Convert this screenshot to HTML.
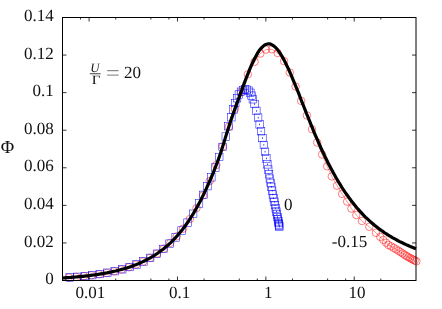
<!DOCTYPE html>
<html><head><meta charset="utf-8"><title>Phi plot</title>
<style>
html,body{margin:0;padding:0;background:#fff;}
body{width:442px;height:309px;overflow:hidden;font-family:"Liberation Serif",serif;}
svg{display:block;will-change:transform;}
text{font-family:"Liberation Serif",serif;font-size:17px;fill:#111;text-rendering:geometricPrecision;}
</style></head><body>
<svg width="442" height="309" viewBox="0 0 442 309">
<rect width="442" height="309" fill="#fff"/>
<path d="M68.8,277.5 L76.4,276.9 L84.0,276.2 L91.6,275.3 L99.2,274.2 L106.7,272.9 L114.2,271.3 L121.6,269.5 L128.9,267.2 L136.1,264.6 L143.2,261.5 L150.2,257.9 L157.0,253.6 L163.7,248.7 L170.3,242.9 L176.8,236.3 L183.1,228.7 L189.9,219.0 L196.5,208.1 L203.1,195.4 L209.7,181.1 L216.3,165.0 L222.7,146.5 L228.8,126.8 L234.9,108.9 L241.0,92.2 L247.8,74.3 L254.6,61.8 L260.3,53.6 L266.0,49.6 L271.9,49.3 L277.6,53.0 L284.1,61.1 L289.8,72.5 L295.6,86.5 L301.2,100.9 L306.9,115.4 L312.0,129.2 L317.2,142.5 L322.1,154.5 L327.2,166.3 L331.8,176.4 L337.0,185.7 L342.1,193.9 L347.1,201.6 L351.4,208.5 L356.3,215.0 L362.0,221.0 L369.3,226.8 L375.9,232.8 L380.3,236.9 L383.3,239.9 L386.1,242.7 L388.4,245.0 L391.1,246.4 L393.7,247.9 L396.1,249.3 L398.4,250.7 L400.6,252.1 L402.7,253.5 L404.7,254.9 L406.6,256.0 L408.4,257.1 L410.1,258.0 L411.7,258.9 L413.2,259.7 L414.7,260.5 L416.4,261.3" fill="none" stroke="#f00" stroke-width="0.4"/>
<g fill="none" stroke="#f00" stroke-width="0.5"><circle cx="68.8" cy="277.5" r="3.75"/><circle cx="76.4" cy="276.9" r="3.75"/><circle cx="84.0" cy="276.2" r="3.75"/><circle cx="91.6" cy="275.3" r="3.75"/><circle cx="99.2" cy="274.2" r="3.75"/><circle cx="106.7" cy="272.9" r="3.75"/><circle cx="114.2" cy="271.3" r="3.75"/><circle cx="121.6" cy="269.5" r="3.75"/><circle cx="128.9" cy="267.2" r="3.75"/><circle cx="136.1" cy="264.6" r="3.75"/><circle cx="143.2" cy="261.5" r="3.75"/><circle cx="150.2" cy="257.9" r="3.75"/><circle cx="157.0" cy="253.6" r="3.75"/><circle cx="163.7" cy="248.7" r="3.75"/><circle cx="170.3" cy="242.9" r="3.75"/><circle cx="176.8" cy="236.3" r="3.75"/><circle cx="183.1" cy="228.7" r="3.75"/><circle cx="189.9" cy="219.0" r="3.75"/><circle cx="196.5" cy="208.1" r="3.75"/><circle cx="203.1" cy="195.4" r="3.75"/><circle cx="209.7" cy="181.1" r="3.75"/><circle cx="216.3" cy="165.0" r="3.75"/><circle cx="222.7" cy="146.5" r="3.75"/><circle cx="228.8" cy="126.8" r="3.75"/><circle cx="234.9" cy="108.9" r="3.75"/><circle cx="241.0" cy="92.2" r="3.75"/><circle cx="247.8" cy="74.3" r="3.75"/><circle cx="254.6" cy="61.8" r="3.75"/><circle cx="260.3" cy="53.6" r="3.75"/><circle cx="266.0" cy="49.6" r="3.75"/><circle cx="271.9" cy="49.3" r="3.75"/><circle cx="277.6" cy="53.0" r="3.75"/><circle cx="284.1" cy="61.1" r="3.75"/><circle cx="289.8" cy="72.5" r="3.75"/><circle cx="295.6" cy="86.5" r="3.75"/><circle cx="301.2" cy="100.9" r="3.75"/><circle cx="306.9" cy="115.4" r="3.75"/><circle cx="312.0" cy="129.2" r="3.75"/><circle cx="317.2" cy="142.5" r="3.75"/><circle cx="322.1" cy="154.5" r="3.75"/><circle cx="327.2" cy="166.3" r="3.75"/><circle cx="331.8" cy="176.4" r="3.75"/><circle cx="337.0" cy="185.7" r="3.75"/><circle cx="342.1" cy="193.9" r="3.75"/><circle cx="347.1" cy="201.6" r="3.75"/><circle cx="351.4" cy="208.5" r="3.75"/><circle cx="356.3" cy="215.0" r="3.75"/><circle cx="362.0" cy="221.0" r="3.75"/><circle cx="369.3" cy="226.8" r="3.75"/><circle cx="375.9" cy="232.8" r="3.75"/><circle cx="380.3" cy="236.9" r="3.75"/><circle cx="383.3" cy="239.9" r="3.75"/><circle cx="386.1" cy="242.7" r="3.75"/><circle cx="388.4" cy="245.0" r="3.75"/><circle cx="391.1" cy="246.4" r="3.75"/><circle cx="393.7" cy="247.9" r="3.75"/><circle cx="396.1" cy="249.3" r="3.75"/><circle cx="398.4" cy="250.7" r="3.75"/><circle cx="400.6" cy="252.1" r="3.75"/><circle cx="402.7" cy="253.5" r="3.75"/><circle cx="404.7" cy="254.9" r="3.75"/><circle cx="406.6" cy="256.0" r="3.75"/><circle cx="408.4" cy="257.1" r="3.75"/><circle cx="410.1" cy="258.0" r="3.75"/><circle cx="411.7" cy="258.9" r="3.75"/><circle cx="413.2" cy="259.7" r="3.75"/><circle cx="414.7" cy="260.5" r="3.75"/><circle cx="416.4" cy="261.3" r="3.75"/></g>
<g fill="none" stroke="#00f" stroke-width="0.5"><rect x="66.0" y="273.7" width="7.5" height="7.5"/><rect x="73.5" y="273.1" width="7.5" height="7.5"/><rect x="81.0" y="272.3" width="7.5" height="7.5"/><rect x="88.5" y="271.4" width="7.5" height="7.5"/><rect x="96.0" y="270.3" width="7.5" height="7.5"/><rect x="103.5" y="269.0" width="7.5" height="7.5"/><rect x="111.0" y="267.4" width="7.5" height="7.5"/><rect x="118.5" y="265.5" width="7.5" height="7.5"/><rect x="125.8" y="263.3" width="7.5" height="7.5"/><rect x="132.8" y="260.7" width="7.5" height="7.5"/><rect x="139.7" y="257.7" width="7.5" height="7.5"/><rect x="146.4" y="254.1" width="7.5" height="7.5"/><rect x="153.2" y="250.0" width="7.5" height="7.5"/><rect x="159.7" y="245.2" width="7.5" height="7.5"/><rect x="165.8" y="239.9" width="7.5" height="7.5"/><rect x="171.9" y="233.7" width="7.5" height="7.5"/><rect x="177.8" y="226.8" width="7.5" height="7.5"/><rect x="183.8" y="218.9" width="7.5" height="7.5"/><rect x="189.4" y="210.0" width="7.5" height="7.5"/><rect x="195.3" y="199.7" width="7.5" height="7.5"/><rect x="199.7" y="191.1" width="7.5" height="7.5"/><rect x="203.7" y="182.4" width="7.5" height="7.5"/><rect x="207.6" y="173.6" width="7.5" height="7.5"/><rect x="211.6" y="163.8" width="7.5" height="7.5"/><rect x="215.5" y="153.2" width="7.5" height="7.5"/><rect x="218.8" y="143.2" width="7.5" height="7.5"/><rect x="222.0" y="132.8" width="7.5" height="7.5"/><rect x="224.7" y="122.5" width="7.5" height="7.5"/><rect x="227.6" y="113.5" width="7.5" height="7.5"/><rect x="229.7" y="105.7" width="7.5" height="7.5"/><rect x="231.5" y="99.3" width="7.5" height="7.5"/><rect x="233.3" y="94.5" width="7.5" height="7.5"/><rect x="235.1" y="90.8" width="7.5" height="7.5"/><rect x="237.2" y="88.0" width="7.5" height="7.5"/><rect x="239.2" y="86.3" width="7.5" height="7.5"/><rect x="241.2" y="85.6" width="7.5" height="7.5"/><rect x="243.2" y="85.9" width="7.5" height="7.5"/><rect x="245.1" y="87.0" width="7.5" height="7.5"/><rect x="246.6" y="89.0" width="7.5" height="7.5"/><rect x="247.8" y="91.9" width="7.5" height="7.5"/><rect x="249.1" y="95.5" width="7.5" height="7.5"/><rect x="250.8" y="100.3" width="7.5" height="7.5"/><rect x="252.6" y="107.1" width="7.5" height="7.5"/><rect x="254.4" y="113.9" width="7.5" height="7.5"/><rect x="255.9" y="120.7" width="7.5" height="7.5"/><rect x="257.3" y="127.5" width="7.5" height="7.5"/><rect x="258.7" y="134.3" width="7.5" height="7.5"/><rect x="260.1" y="141.2" width="7.5" height="7.5"/><rect x="261.3" y="148.0" width="7.5" height="7.5"/><rect x="262.6" y="154.7" width="7.5" height="7.5"/><rect x="263.6" y="160.6" width="7.5" height="7.5"/><rect x="264.5" y="165.8" width="7.5" height="7.5"/><rect x="265.3" y="170.5" width="7.5" height="7.5"/><rect x="266.1" y="174.9" width="7.5" height="7.5"/><rect x="266.9" y="179.1" width="7.5" height="7.5"/><rect x="267.6" y="183.1" width="7.5" height="7.5"/><rect x="268.4" y="187.0" width="7.5" height="7.5"/><rect x="269.1" y="190.8" width="7.5" height="7.5"/><rect x="269.9" y="194.4" width="7.5" height="7.5"/><rect x="270.6" y="198.0" width="7.5" height="7.5"/><rect x="271.3" y="201.4" width="7.5" height="7.5"/><rect x="272.0" y="204.7" width="7.5" height="7.5"/><rect x="272.6" y="207.8" width="7.5" height="7.5"/><rect x="273.2" y="210.7" width="7.5" height="7.5"/><rect x="273.8" y="213.3" width="7.5" height="7.5"/><rect x="274.2" y="215.6" width="7.5" height="7.5"/><rect x="274.6" y="217.6" width="7.5" height="7.5"/><rect x="274.9" y="219.3" width="7.5" height="7.5"/><rect x="275.2" y="220.7" width="7.5" height="7.5"/><rect x="275.4" y="221.9" width="7.5" height="7.5"/><rect x="275.6" y="222.8" width="7.5" height="7.5"/></g>
<g fill="#00f" stroke="none"><rect x="69.5" y="276.7" width="0.7" height="1.6"/><rect x="77.0" y="276.0" width="0.7" height="1.6"/><rect x="84.5" y="275.3" width="0.7" height="1.6"/><rect x="92.0" y="274.4" width="0.7" height="1.6"/><rect x="99.5" y="273.3" width="0.7" height="1.6"/><rect x="107.0" y="272.0" width="0.7" height="1.6"/><rect x="114.5" y="270.4" width="0.7" height="1.6"/><rect x="122.0" y="268.5" width="0.7" height="1.6"/><rect x="129.2" y="266.2" width="0.7" height="1.6"/><rect x="136.2" y="263.7" width="0.7" height="1.6"/><rect x="143.1" y="260.6" width="0.7" height="1.6"/><rect x="149.8" y="257.1" width="0.7" height="1.6"/><rect x="156.6" y="252.9" width="0.7" height="1.6"/><rect x="163.1" y="248.1" width="0.7" height="1.6"/><rect x="169.2" y="242.8" width="0.7" height="1.6"/><rect x="175.3" y="236.7" width="0.7" height="1.6"/><rect x="181.2" y="229.8" width="0.7" height="1.6"/><rect x="187.2" y="221.8" width="0.7" height="1.6"/><rect x="192.8" y="213.0" width="0.7" height="1.6"/><rect x="198.7" y="202.6" width="0.7" height="1.6"/><rect x="203.1" y="194.0" width="0.7" height="1.6"/><rect x="207.1" y="185.4" width="0.7" height="1.6"/><rect x="211.0" y="176.5" width="0.7" height="1.6"/><rect x="215.0" y="166.7" width="0.7" height="1.6"/><rect x="218.9" y="156.2" width="0.7" height="1.6"/><rect x="222.2" y="146.2" width="0.7" height="1.6"/><rect x="225.4" y="135.8" width="0.7" height="1.6"/><rect x="228.1" y="125.5" width="0.7" height="1.6"/><rect x="231.0" y="116.4" width="0.7" height="1.6"/><rect x="233.1" y="108.6" width="0.7" height="1.6"/><rect x="234.9" y="102.3" width="0.7" height="1.6"/><rect x="236.7" y="97.4" width="0.7" height="1.6"/><rect x="238.5" y="93.7" width="0.7" height="1.6"/><rect x="240.6" y="91.0" width="0.7" height="1.6"/><rect x="242.7" y="89.3" width="0.7" height="1.6"/><rect x="244.7" y="88.6" width="0.7" height="1.6"/><rect x="246.7" y="88.8" width="0.7" height="1.6"/><rect x="248.5" y="89.9" width="0.7" height="1.6"/><rect x="250.0" y="92.0" width="0.7" height="1.6"/><rect x="251.2" y="94.8" width="0.7" height="1.6"/><rect x="252.5" y="98.5" width="0.7" height="1.6"/><rect x="254.2" y="103.3" width="0.7" height="1.6"/><rect x="256.0" y="110.1" width="0.7" height="1.6"/><rect x="257.8" y="116.9" width="0.7" height="1.6"/><rect x="259.3" y="123.7" width="0.7" height="1.6"/><rect x="260.7" y="130.5" width="0.7" height="1.6"/><rect x="262.1" y="137.3" width="0.7" height="1.6"/><rect x="263.5" y="144.1" width="0.7" height="1.6"/><rect x="264.7" y="150.9" width="0.7" height="1.6"/><rect x="266.0" y="157.6" width="0.7" height="1.6"/><rect x="267.0" y="163.5" width="0.7" height="1.6"/><rect x="267.9" y="168.8" width="0.7" height="1.6"/><rect x="268.7" y="173.5" width="0.7" height="1.6"/><rect x="269.5" y="177.9" width="0.7" height="1.6"/><rect x="270.3" y="182.1" width="0.7" height="1.6"/><rect x="271.0" y="186.1" width="0.7" height="1.6"/><rect x="271.8" y="189.9" width="0.7" height="1.6"/><rect x="272.5" y="193.7" width="0.7" height="1.6"/><rect x="273.3" y="197.4" width="0.7" height="1.6"/><rect x="274.0" y="201.0" width="0.7" height="1.6"/><rect x="274.7" y="204.4" width="0.7" height="1.6"/><rect x="275.4" y="207.7" width="0.7" height="1.6"/><rect x="276.0" y="210.8" width="0.7" height="1.6"/><rect x="276.6" y="213.6" width="0.7" height="1.6"/><rect x="277.2" y="216.2" width="0.7" height="1.6"/><rect x="277.6" y="218.5" width="0.7" height="1.6"/><rect x="278.0" y="220.5" width="0.7" height="1.6"/><rect x="278.3" y="222.2" width="0.7" height="1.6"/><rect x="278.6" y="223.7" width="0.7" height="1.6"/><rect x="278.8" y="224.8" width="0.7" height="1.6"/><rect x="278.9" y="225.7" width="0.7" height="1.6"/></g>
<path d="M62.5,278.0 L64.0,277.9 L65.5,277.8 L66.9,277.7 L68.4,277.6 L69.9,277.5 L71.4,277.3 L72.9,277.2 L74.3,277.1 L75.8,277.0 L77.3,276.8 L78.8,276.7 L80.2,276.6 L81.7,276.4 L83.2,276.3 L84.7,276.1 L86.2,275.9 L87.6,275.8 L89.1,275.6 L90.6,275.4 L92.1,275.2 L93.6,275.0 L95.0,274.8 L96.5,274.6 L98.0,274.4 L99.5,274.1 L101.0,273.9 L102.4,273.7 L103.9,273.4 L105.4,273.1 L106.9,272.9 L108.4,272.6 L109.8,272.3 L111.3,272.0 L112.8,271.6 L114.3,271.3 L115.7,271.0 L117.2,270.6 L118.7,270.2 L120.2,269.8 L121.7,269.4 L123.1,269.0 L124.6,268.6 L126.1,268.1 L127.6,267.7 L129.1,267.2 L130.5,266.7 L132.0,266.2 L133.5,265.6 L135.0,265.1 L136.5,264.5 L137.9,263.9 L139.4,263.2 L140.9,262.6 L142.4,261.9 L143.8,261.2 L145.3,260.5 L146.8,259.7 L148.3,258.9 L149.8,258.1 L151.2,257.3 L152.7,256.4 L154.2,255.5 L155.7,254.5 L157.2,253.5 L158.6,252.5 L160.1,251.4 L161.6,250.3 L163.1,249.2 L164.6,248.0 L166.0,246.8 L167.5,245.5 L169.0,244.2 L170.5,242.8 L172.0,241.3 L173.4,239.9 L174.9,238.3 L176.4,236.7 L177.9,235.0 L179.3,233.3 L180.8,231.5 L182.3,229.7 L183.8,227.8 L185.3,225.8 L186.7,223.7 L188.2,221.6 L189.7,219.3 L191.2,217.0 L192.7,214.7 L194.1,212.2 L195.6,209.6 L197.1,207.0 L198.6,204.3 L200.1,201.5 L201.5,198.6 L203.0,195.6 L204.5,192.5 L206.0,189.4 L207.4,186.2 L208.9,182.9 L210.4,179.5 L211.9,176.0 L213.4,172.4 L214.8,168.7 L216.3,164.9 L217.8,161.0 L219.3,156.8 L220.8,152.5 L222.2,148.0 L223.7,143.3 L225.2,138.4 L226.7,133.6 L228.2,128.8 L229.6,124.2 L231.1,119.7 L232.6,115.4 L234.1,111.2 L235.6,107.1 L237.0,103.0 L238.5,99.0 L240.0,94.9 L241.5,90.9 L242.9,86.9 L244.4,82.9 L245.9,78.9 L247.4,75.1 L248.9,71.4 L250.3,67.8 L251.8,64.4 L253.3,61.2 L254.8,58.2 L256.3,55.4 L257.7,52.9 L259.2,50.6 L260.7,48.7 L262.2,47.1 L263.7,45.8 L265.1,44.8 L266.6,44.2 L268.1,43.9 L269.6,43.9 L271.1,44.3 L272.5,45.1 L274.0,46.1 L275.5,47.4 L277.0,49.0 L278.4,50.9 L279.9,53.0 L281.4,55.3 L282.9,57.9 L284.4,60.6 L285.8,63.5 L287.3,66.6 L288.8,69.8 L290.3,73.1 L291.8,76.6 L293.2,80.1 L294.7,83.7 L296.2,87.3 L297.7,91.0 L299.2,94.7 L300.6,98.5 L302.1,102.3 L303.6,106.0 L305.1,109.8 L306.5,113.5 L308.0,117.2 L309.5,120.9 L311.0,124.6 L312.5,128.2 L313.9,131.8 L315.4,135.3 L316.9,138.7 L318.4,142.1 L319.9,145.5 L321.3,148.8 L322.8,152.0 L324.3,155.1 L325.8,158.2 L327.3,161.2 L328.7,164.2 L330.2,167.0 L331.7,169.8 L333.2,172.6 L334.7,175.2 L336.1,177.8 L337.6,180.4 L339.1,182.8 L340.6,185.2 L342.0,187.6 L343.5,189.8 L345.0,192.1 L346.5,194.2 L348.0,196.3 L349.4,198.3 L350.9,200.3 L352.4,202.2 L353.9,204.1 L355.4,205.9 L356.8,207.7 L358.3,209.4 L359.8,211.1 L361.3,212.7 L362.8,214.3 L364.2,215.8 L365.7,217.3 L367.2,218.7 L368.7,220.1 L370.1,221.4 L371.6,222.7 L373.1,224.0 L374.6,225.3 L376.1,226.5 L377.5,227.6 L379.0,228.8 L380.5,229.8 L382.0,230.9 L383.5,231.9 L384.9,233.0 L386.4,233.9 L387.9,234.9 L389.4,235.8 L390.9,236.7 L392.3,237.6 L393.8,238.4 L395.3,239.2 L396.8,240.0 L398.3,240.8 L399.7,241.6 L401.2,242.3 L402.7,243.0 L404.2,243.7 L405.6,244.4 L407.1,245.1 L408.6,245.7 L410.1,246.4 L411.6,247.0 L413.0,247.6 L414.5,248.2 L416.0,248.8" fill="none" stroke="#000" stroke-width="3.2" stroke-linejoin="round"/>
<rect x="62.5" y="17.5" width="353.5" height="263.0" fill="none" stroke="#000" stroke-width="1"/>
<path d="M80.54,280.5 v-2.0 M80.54,17.5 v2.0 M89.10,280.5 v-4.0 M89.10,17.5 v4.0 M115.71,280.5 v-2.0 M115.71,17.5 v2.0 M150.88,280.5 v-2.0 M150.88,17.5 v2.0 M168.91,280.5 v-2.0 M168.91,17.5 v2.0 M177.48,280.5 v-4.0 M177.48,17.5 v4.0 M204.08,280.5 v-2.0 M204.08,17.5 v2.0 M239.25,280.5 v-2.0 M239.25,17.5 v2.0 M257.29,280.5 v-2.0 M257.29,17.5 v2.0 M265.85,280.5 v-4.0 M265.85,17.5 v4.0 M292.46,280.5 v-2.0 M292.46,17.5 v2.0 M327.63,280.5 v-2.0 M327.63,17.5 v2.0 M345.66,280.5 v-2.0 M345.66,17.5 v2.0 M354.23,280.5 v-4.0 M354.23,17.5 v4.0 M380.83,280.5 v-2.0 M380.83,17.5 v2.0 M62.5,242.93 h4.0 M416.0,242.93 h-4.0 M62.5,205.36 h4.0 M416.0,205.36 h-4.0 M62.5,167.79 h4.0 M416.0,167.79 h-4.0 M62.5,130.21 h4.0 M416.0,130.21 h-4.0 M62.5,92.64 h4.0 M416.0,92.64 h-4.0 M62.5,55.07 h4.0 M416.0,55.07 h-4.0" fill="none" stroke="#000" stroke-width="0.8"/>
<text x="90.45" y="297.9" text-anchor="middle">0.01</text><text x="179.5" y="297.9" text-anchor="middle">0.1</text><text x="268.15" y="297.9" text-anchor="middle">1</text><text x="357.1" y="297.9" text-anchor="middle">10</text><text x="53.7" y="284.1" text-anchor="end">0</text><text x="53.7" y="246.5" text-anchor="end">0.02</text><text x="53.7" y="209.0" text-anchor="end">0.04</text><text x="53.7" y="171.4" text-anchor="end">0.06</text><text x="53.7" y="133.8" text-anchor="end">0.08</text><text x="53.7" y="96.2" text-anchor="end">0.1</text><text x="53.7" y="58.7" text-anchor="end">0.12</text><text x="53.7" y="21.1" text-anchor="end">0.14</text>
<text x="7.4" y="153.4" text-anchor="middle" style="font-size:18.4px">&#934;</text>
<text x="284.0" y="209.6">0</text>
<text x="331.8" y="247">-0.15</text>
<text x="94.9" y="72" text-anchor="middle" font-style="italic" style="font-size:12.8px">U</text>
<rect x="89.8" y="73.4" width="10.8" height="0.8" fill="#111"/>
<text transform="translate(96.1,84.2) scale(1.18,1)" x="0" y="0" text-anchor="middle" style="font-size:12.8px">&#915;</text>
<text transform="translate(105.65,80.4) scale(1.18,1)" x="0" y="0" style="font-size:21.5px;stroke:#fff;stroke-width:0.3px">=</text>
<text x="124" y="77.8">20</text>
</svg>
</body></html>
